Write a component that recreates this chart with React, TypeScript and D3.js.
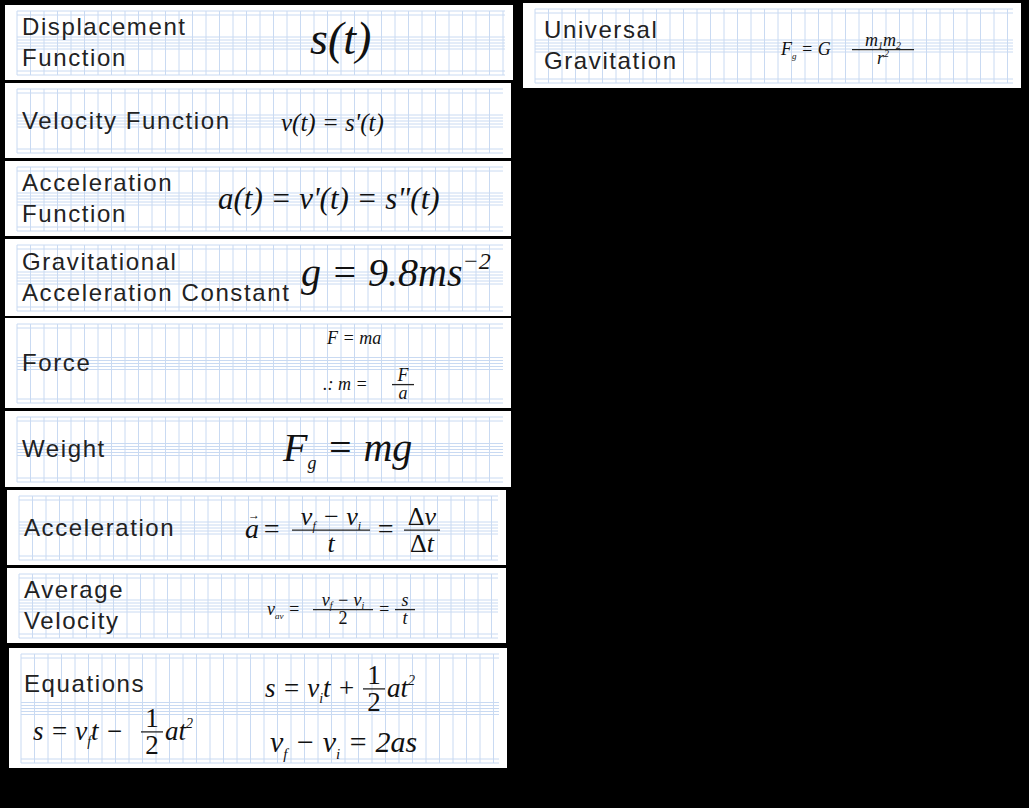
import React from "react";
import * as d3 from "d3";

const W = 1029, H = 808;
const labels = ["Displacement\nFunction", "Velocity Function", "Acceleration\nFunction", "Gravitational\nAcceleration Constant", "Force", "Weight", "Acceleration", "Average\nVelocity", "Equations", "Universal\nGravitation"];
const boxX0 = [5, 5, 5, 5, 5, 5, 7, 7, 9, 523];
const boxY0 = [5, 83, 161, 239, 318, 411, 490, 568, 648, 3];
const boxX1 = [513, 511, 511, 511, 511, 511, 506, 506, 507, 1021];
const boxY1 = [80, 158, 236, 316, 408, 487, 565, 643, 768, 88];

const serif = "'Liberation Serif','DejaVu Serif',serif";
const sans = "'Liberation Sans',Arial,sans-serif";

function Grid({ x0, y0, x1, y1 }: any) {
  const gx0 = x0 + 12, gx1 = x1 - 8, gy0 = y0 + 6, gy1 = y1 - 5;
  const xs = d3.range(gx0, gx1, 13.5);
  const mid = (gy0 + gy1) / 2;
  const ys = [gy0, gy0 + 4, mid - 6, mid - 3, mid, mid + 3, mid + 6, gy1 - 4, gy1];
  return (
    <g stroke="#c9daf2" strokeWidth={1}>
      {xs.map((x, i) => <line key={"v" + i} x1={x} x2={x} y1={gy0} y2={gy1} />)}
      {ys.map((y, i) => <line key={"h" + i} x1={gx0} x2={gx1} y1={y} y2={y} />)}
    </g>
  );
}

const T = (p: any) => <text fontFamily={serif} fontStyle="italic" fill="#111" {...p} />;
const Fr = ({ x, y, w, num, den, fs }: any) => {
  const bar = y - fs * 0.3;
  return (
    <g>
      <T x={x + w / 2} y={bar - fs * 0.2} fontSize={fs} textAnchor="middle">{num}</T>
      <line x1={x} x2={x + w} y1={bar} y2={bar} stroke="#222" strokeWidth={1.3} />
      <T x={x + w / 2} y={bar + fs * 0.82} fontSize={fs} textAnchor="middle">{den}</T>
    </g>
  );
};
const N = (s: string) => <tspan fontStyle="normal">{s}</tspan>;

function Formula({ i }: { i: number }) {
  switch (i) {
    case 0: return <T x={310} y={54} fontSize={46}>s(t)</T>;
    case 1: return <T x={281} y={131} fontSize={25}>v(t) = s'(t)</T>;
    case 2: return <T x={218} y={209} fontSize={31}>a(t) = v'(t) = s"(t)</T>;
    case 3: return <T x={301} y={286} fontSize={40}>g = 9.8ms<tspan dy={-17} fontSize={24}>−2</tspan></T>;
    case 4: return (
      <g>
        <T x={327} y={344} fontSize={18}>F = ma</T>
        <T x={323} y={390} fontSize={18}>.: m =</T>
        <Fr x={392} y={390} w={22} num="F" den="a" fs={18} />
      </g>
    );
    case 5: return <T x={283} y={461} fontSize={40}>F<tspan dy={8} fontSize={18}>g</tspan><tspan dy={-8}> = mg</tspan></T>;
    case 6: return (
      <g>
        <T x={245} y={538} fontSize={28}>a</T>
        <text x={248} y={519} fontSize={12} fontFamily={serif}>→</text>
        <T x={262} y={538} fontSize={28}>=</T>
        <Fr x={292} y={538} w={78} num={<tspan>v<tspan fontSize={12} dy={5}>f</tspan><tspan dy={-5}> − v</tspan><tspan fontSize={12} dy={5}>i</tspan></tspan>} den="t" fs={26} />
        <T x={376} y={538} fontSize={28}>=</T>
        <Fr x={404} y={538} w={36} num={<tspan><tspan fontStyle="normal">Δ</tspan>v</tspan>} den={<tspan><tspan fontStyle="normal">Δ</tspan>t</tspan>} fs={26} />
      </g>
    );
    case 7: return (
      <g>
        <T x={267} y={615} fontSize={18}>v<tspan fontSize={9} dy={4}>av</tspan><tspan dy={-4}> =</tspan></T>
        <Fr x={313} y={615} w={60} num={<tspan>v<tspan fontSize={10} dy={3}>f</tspan><tspan dy={-3}> − v</tspan><tspan fontSize={10} dy={3}>i</tspan></tspan>} den={N("2")} fs={18} />
        <T x={378} y={615} fontSize={18}>=</T>
        <Fr x={395} y={615} w={20} num="s" den="t" fs={18} />
      </g>
    );
    case 8: return (
      <g>
        <T x={265} y={697} fontSize={27}>s = v<tspan fontSize={14} dy={6}>i</tspan><tspan dy={-6}>t +</tspan></T>
        <Fr x={363} y={697} w={22} num={N("1")} den={N("2")} fs={27} />
        <T x={387} y={697} fontSize={27}>at<tspan fontSize={14} dy={-12}>2</tspan></T>
        <T x={33} y={740} fontSize={27}>s = v<tspan fontSize={14} dy={6}>f</tspan><tspan dy={-6}>t −</tspan></T>
        <Fr x={141} y={740} w={22} num={N("1")} den={N("2")} fs={27} />
        <T x={165} y={740} fontSize={27}>at<tspan fontSize={14} dy={-12}>2</tspan></T>
        <T x={270} y={752} fontSize={30}>v<tspan fontSize={15} dy={7}>f</tspan><tspan dy={-7}> − v</tspan><tspan fontSize={15} dy={7}>i</tspan><tspan dy={-7}> = 2as</tspan></T>
      </g>
    );
    case 9: return (
      <g>
        <T x={781} y={55} fontSize={18}>F<tspan fontSize={9} dy={4}>g</tspan><tspan dy={-4}> = G</tspan></T>
        <Fr x={852} y={55} w={62} num={<tspan>m<tspan fontSize={10} dy={3}>1</tspan><tspan dy={-3}>m</tspan><tspan fontSize={10} dy={3}>2</tspan></tspan>} den={<tspan>r<tspan fontSize={10} dy={-7}>2</tspan></tspan>} fs={18} />
      </g>
    );
  }
  return null;
}

export default function App() {
  return (
    <svg width={W} height={H} style={{ position: "fixed", left: 0, top: 0 }}>
      <rect width={W} height={H} fill="#000" />
      {labels.map((lab, i) => {
        const x0 = boxX0[i], y0 = boxY0[i], x1 = boxX1[i], y1 = boxY1[i];
        const lines = lab.split("\n");
        const cy = (y0 + y1) / 2;
        return (
          <g key={i}>
            <rect x={x0} y={y0} width={x1 - x0} height={y1 - y0} fill="#fff" />
            <Grid x0={x0} y0={y0} x1={x1} y1={y1} />
            {lines.map((l, j) => (
              <text key={j} x={i === 8 ? 24 : x0 + (i === 9 ? 21 : 17)}
                y={i === 8 ? 692 : cy + 8 + (j - (lines.length - 1) / 2) * 31}
                fontFamily={sans} fontSize={24} letterSpacing={1.6} fill="#222">{l}</text>
            ))}
            <Formula i={i} />
          </g>
        );
      })}
    </svg>
  );
}
